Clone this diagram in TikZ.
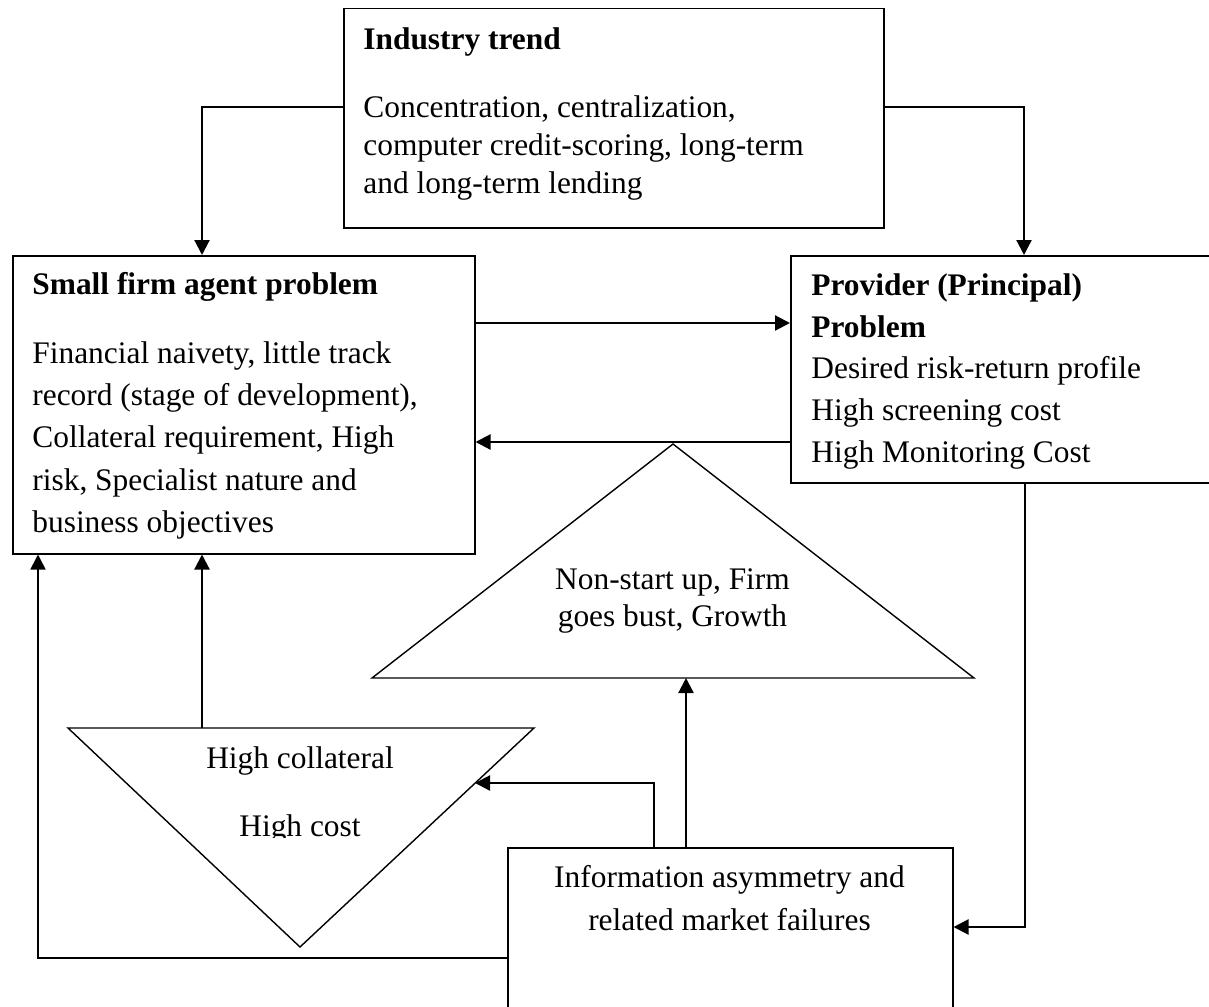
\documentclass[tikz,border=0pt]{standalone}
\usepackage{fontspec}
\setmainfont{Liberation Serif}
\usetikzlibrary{arrows.meta}

\tikzset{
	box/.style={draw, line width=0.75pt, inner sep=0pt, anchor=north west},
	txt/.style={inner sep=0pt, anchor=north west, align=left},
	ctxt/.style={inner sep=0pt, anchor=north, align=center},
	flow/.style={line width=1.1pt, -{Triangle[length=7.5pt,width=7.5pt]}},
	link/.style={line width=0.8pt, -{Triangle[length=7.5pt,width=7.5pt]}},
	tri/.style={draw, line width=0.7pt},
}
\newcommand{\fsz}[1]{\fontsize{15.7}{#1}\selectfont}

\begin{document}
\begin{tikzpicture}[x=0.5pt,y=-0.5pt]
	\useasboundingbox (0,0) rectangle (1209,1006);
	\node[box, minimum width=270pt, minimum height=109.5pt]  at (343,8)    (trend)    {};
	\node[box, minimum width=231pt, minimum height=149pt]    at (12,255)   (agent)    {};
	\node[box, minimum width=215pt, minimum height=113.5pt]  at (790,255)  (provider) {};
	\node[box, minimum width=222.5pt, minimum height=82.5pt] at (507,847)  (info)     {};
	\node[txt, font=\fsz{19pt}]   at (363,22.4)  (trendtxt)    {\strut\textbf{Industry trend}\\[15pt]
		Concentration, centralization,\\ computer credit-scoring, long-term\\ and long-term lending};
	\node[txt, font=\fsz{21.1pt}] at (32,264.6)  (agenttxt)    {\strut\textbf{Small firm agent problem}\\[13.4pt]
		Financial naivety, little track\\ record (stage of development),\\ Collateral requirement, High\\
		risk, Specialist nature and\\ business objectives};
	\node[txt, font=\fsz{20.9pt}] at (811,265.7) (providertxt) {\strut\textbf{Provider (Principal)}\\ \textbf{Problem}\\
		Desired risk-return profile\\ High screening cost\\ High Monitoring Cost};
	\node[ctxt, font=\fsz{21.5pt}] at (729.5,856.9) (infotxt)  {\strut Information asymmetry and\\ related market failures};
	\coordinate (up1) at (673,444);
	\coordinate (up2) at (974,678);
	\coordinate (up3) at (372,678);
	\draw[tri] (up1) -- (up2) -- (up3) -- cycle;
	\node[ctxt, font=\fsz{18.5pt}] at (672.5,563.1) (outcometxt) {\strut Non-start up, Firm\\ goes bust, Growth};
	\coordinate (lo1) at (68,728);
	\coordinate (lo2) at (534,728);
	\coordinate (lo3) at (300,947);
	\draw[tri] (lo1) -- (lo2) -- (lo3) -- cycle;
	\begin{scope}
		\clip (60,700) rectangle (540,837);
		\node[ctxt, font=\fsz{34pt}] at (300,720.4) (costtxt) {\strut High collateral\\ High cost};
	\end{scope}
	\coordinate (lotop) at (202,728);
	\coordinate (lohit) at (475,783);
	\draw[flow] (trend.north west) ++(0,99) -| ([xshift=95pt]agent.north west);
	\draw[flow] (trend.north east) ++(0,99) -| ([xshift=117pt]provider.north west);
	\draw[flow] ([yshift=-34pt]agent.north east) -- ([yshift=-34pt]provider.north west);
	\draw[flow] ([yshift=-93.5pt]provider.north west) -- ([yshift=-93.5pt]agent.north east);
	\draw[flow] (lotop) -- (lotop |- agent.south);
	\draw[link] ([yshift=-55.5pt]info.north west) -| ([xshift=13pt]agent.south west);
	\draw[flow] ([xshift=73.5pt]info.north west) |- (lohit);
	\draw[flow] ([xshift=89.5pt]info.north west) -- ([xshift=89.5pt]info.north west |- up3);
	\draw[flow] ([xshift=117.5pt]provider.south west) |- ([yshift=-40pt]info.north east);
\end{tikzpicture}
\end{document}
